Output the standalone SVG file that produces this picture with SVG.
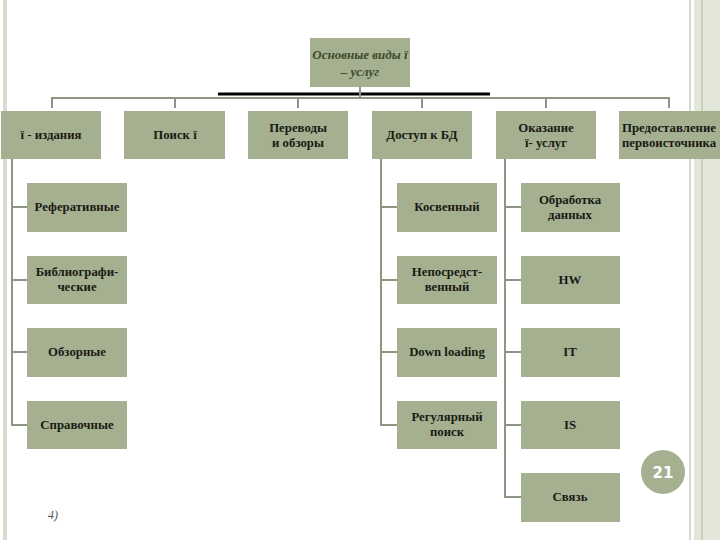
<svg xmlns="http://www.w3.org/2000/svg" width="720" height="540" viewBox="0 0 720 540">
<style>
.box{fill:#a4b08f}
.t{font-family:"Liberation Serif","Times New Roman",serif;font-weight:bold;font-size:12.8px;fill:#1a1a14;text-anchor:middle}
.root{font-family:"Liberation Serif","Times New Roman",serif;font-weight:bold;font-style:italic;font-size:13px;fill:#3d4a2c;text-anchor:middle}
.c{stroke:#8e9683;stroke-width:2;fill:none}
</style>
<rect width="720" height="540" fill="#ffffff"/>
<rect x="3" y="0" width="4" height="540" fill="#d8ddcf"/>
<rect x="689" y="0" width="2" height="540" fill="#d6d9d0"/>
<rect x="694" y="0" width="26" height="540" fill="#e2e7da"/>
<rect x="701" y="0" width="2" height="540" fill="#c9d0bc"/>
<g id="connectors">
<line x1="218" y1="94" x2="490" y2="94" stroke="#000" stroke-width="3"/>
<line class="c" x1="360" y1="87" x2="360" y2="98"/>
<path class="c" d="M52 108V98H669V108M175 98V108M298 98V108M422 98V108M546 98V108"/>
<path class="c" d="M12 159V425H27M12 207H27M12 280H27M12 352H27"/>
<path class="c" d="M381 159V425H397M381 207H397M381 280H397M381 352H397"/>
<path class="c" d="M505 159V497H521M505 207H521M505 280H521M505 352H521M505 425H521"/>
</g>
<g id="root"><rect class="box" x="310" y="38" width="100" height="49"/><text class="root" x="360" y="59">Основные виды ї</text><text class="root" x="360" y="76">– услуг</text></g>
<g id="n1"><rect class="box" x="1" y="111" width="100" height="48"/><text class="t" x="51" y="139">ї - издания</text></g>
<g id="n2"><rect class="box" x="124" y="111" width="101" height="48"/><text class="t" x="175" y="139">Поиск  ї</text></g>
<g id="n3"><rect class="box" x="248" y="111" width="100" height="48"/><text class="t" x="298" y="132">Переводы</text><text class="t" x="298" y="147">и обзоры</text></g>
<g id="n4"><rect class="box" x="372" y="111" width="100" height="48"/><text class="t" x="422" y="139">Доступ к БД</text></g>
<g id="n5"><rect class="box" x="496" y="111" width="100" height="48"/><text class="t" x="546" y="132">Оказание</text><text class="t" x="546" y="147">ї- услуг</text></g>
<g id="n6"><rect class="box" x="619" y="111" width="101" height="48"/><text class="t" x="669" y="132">Предоставление</text><text class="t" x="669" y="147">первоисточника</text></g>
<g id="a1"><rect class="box" x="27" y="183" width="100" height="49"/><text class="t" x="77" y="211">Реферативные</text></g>
<g id="a2"><rect class="box" x="27" y="256" width="100" height="48"/><text class="t" x="77" y="276">Библиографи-</text><text class="t" x="77" y="291">ческие</text></g>
<g id="a3"><rect class="box" x="27" y="328" width="100" height="49"/><text class="t" x="77" y="356">Обзорные</text></g>
<g id="a4"><rect class="box" x="27" y="401" width="100" height="48"/><text class="t" x="77" y="429">Справочные</text></g>
<g id="b1"><rect class="box" x="397" y="183" width="100" height="49"/><text class="t" x="447" y="211">Косвенный</text></g>
<g id="b2"><rect class="box" x="397" y="256" width="100" height="48"/><text class="t" x="447" y="276">Непосредст-</text><text class="t" x="447" y="291">венный</text></g>
<g id="b3"><rect class="box" x="397" y="328" width="100" height="49"/><text class="t" x="447" y="356">Down loading</text></g>
<g id="b4"><rect class="box" x="397" y="401" width="100" height="48"/><text class="t" x="447" y="421">Регулярный</text><text class="t" x="447" y="436">поиск</text></g>
<g id="c1"><rect class="box" x="521" y="183" width="99" height="49"/><text class="t" x="570" y="204">Обработка</text><text class="t" x="570" y="219">данных</text></g>
<g id="c2"><rect class="box" x="521" y="256" width="99" height="48"/><text class="t" x="570" y="284">HW</text></g>
<g id="c3"><rect class="box" x="521" y="328" width="99" height="49"/><text class="t" x="570" y="356">IT</text></g>
<g id="c4"><rect class="box" x="521" y="401" width="99" height="48"/><text class="t" x="570" y="429">IS</text></g>
<g id="c5"><rect class="box" x="521" y="473" width="99" height="49"/><text class="t" x="570" y="501">Связь</text></g>
<g id="page"><circle cx="663" cy="472" r="22" fill="#a4b08f"/><text x="663" y="478" font-family="'DejaVu Sans',Verdana,sans-serif" font-weight="bold" font-size="15" fill="#ffffff" text-anchor="middle">21</text></g>
<text x="53" y="519" font-family="'Liberation Serif',serif" font-style="italic" font-size="12" fill="#555555" text-anchor="middle">4)</text>
</svg>
